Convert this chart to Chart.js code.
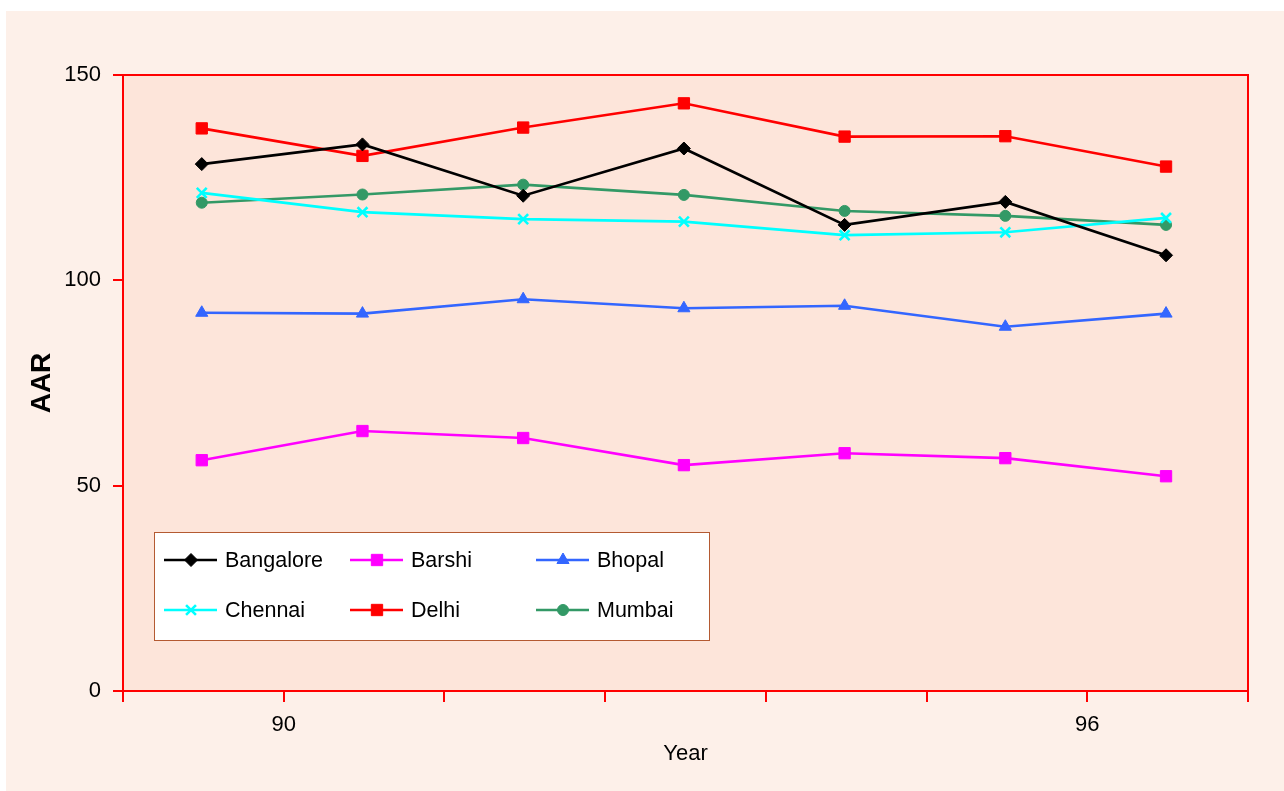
<!DOCTYPE html>
<html>
<head>
<meta charset="utf-8">
<script src="https://cdn.jsdelivr.net/npm/chart.js@4/dist/chart.umd.min.js"></script>
<style>
  html, body { margin: 0; padding: 0; background: #ffffff; }
  #paneel {
    position: absolute; left: 6px; top: 11px;
    width: 1278px; height: 780px;
    background: rgb(253, 240, 233);
  }
</style>
</head>
<body>
<div id="paneel"><canvas id="grafiek"></canvas></div>
<script>
// tick labels on the year axis (one per boundary)
const tickLabels = ['', '90', '', '', '', '', '96', ''];

// AAR per city, seven years
const seriesNames = ['Bangalore', 'Barshi', 'Bhopal', 'Chennai', 'Delhi', 'Mumbai'];
const bangalore = [128.3, 133.1, 120.6, 132.1, 113.5, 119.1, 106.1];
const barshi    = [56.2, 63.3, 61.6, 55.0, 57.9, 56.7, 52.3];
const bhopal    = [92.1, 91.9, 95.4, 93.2, 93.8, 88.7, 91.9];
const chennai   = [121.3, 116.6, 114.9, 114.3, 111.0, 111.7, 115.2];
const delhi     = [137.0, 130.3, 137.2, 143.1, 135.0, 135.1, 127.7];
const mumbai    = [118.9, 120.9, 123.3, 120.8, 116.9, 115.7, 113.5];

const FONT = "'Liberation Sans', Arial, Helvetica, sans-serif";
const ROOD = '#ff0000';

// punten staan (bijna) midden in elk jaarvak
function punten(waarden) {
  return waarden.map((v, i) => ({ x: i + 0.49, y: v }));
}

function lijn(naam, waarden, kleur, stijl, straal) {
  return {
    label: naam,
    data: punten(waarden),
    borderColor: kleur,
    backgroundColor: kleur,
    borderWidth: 2.6,
    pointStyle: stijl,
    pointRadius: straal,
    pointHoverRadius: straal,
    pointBorderWidth: stijl === 'crossRot' ? 2.6 : 1,
    pointBorderColor: kleur,
    pointBackgroundColor: kleur,
    tension: 0
  };
}

const datasets = [
  lijn(seriesNames[0], bangalore, '#000000', 'rectRot', 6.5),
  lijn(seriesNames[1], barshi, '#ff00ff', 'rect', 8),
  lijn(seriesNames[2], bhopal, '#3366ff', 'triangle', 7),
  lijn(seriesNames[3], chennai, '#00ffff', 'crossRot', 7),
  lijn(seriesNames[4], delhi, ROOD, 'rect', 8),
  lijn(seriesNames[5], mumbai, '#339966', 'circle', 5.5)
];

// achtergrond en rode rand van het plotvlak
const plotVlak = {
  id: 'plotVlak',
  beforeDraw(chart) {
    const { ctx, chartArea: a } = chart;
    ctx.save();
    ctx.fillStyle = 'rgb(253, 229, 218)';
    ctx.fillRect(a.left, a.top, a.right - a.left, a.bottom - a.top);
    ctx.restore();
  },
  afterDatasetsDraw(chart) {
    const { ctx, chartArea: a } = chart;
    ctx.save();
    ctx.strokeStyle = ROOD;
    ctx.lineWidth = 2;
    ctx.strokeRect(a.left, a.top, a.right - a.left, a.bottom - a.top);
    ctx.restore();
  }
};

// eigen legenda in een kader binnen het plotvlak (3 kolommen, 2 rijen)
const legendaKader = {
  id: 'legendaKader',
  afterDraw(chart) {
    const { ctx, chartArea: a } = chart;
    const bx = a.left + 31, by = a.top + 457, bw = 555, bh = 108;
    ctx.save();
    ctx.fillStyle = '#ffffff';
    ctx.fillRect(bx, by, bw, bh);
    ctx.strokeStyle = 'rgb(180, 90, 50)';
    ctx.lineWidth = 1;
    ctx.strokeRect(bx + 0.5, by + 0.5, bw, bh);
    ctx.font = '21.5px ' + FONT;
    ctx.textBaseline = 'middle';
    ctx.textAlign = 'left';
    chart.data.datasets.forEach((ds, i) => {
      const kol = i % 3, rij = Math.floor(i / 3);
      const x0 = bx + 10 + kol * 186;
      const y0 = by + 28 + rij * 50;
      ctx.strokeStyle = ds.borderColor;
      ctx.lineWidth = 2.6;
      ctx.beginPath();
      ctx.moveTo(x0, y0);
      ctx.lineTo(x0 + 53, y0);
      ctx.stroke();
      ctx.fillStyle = ds.pointBackgroundColor;
      ctx.lineWidth = ds.pointBorderWidth;
      Chart.helpers.drawPoint(ctx, {
        pointStyle: ds.pointStyle,
        radius: ds.pointRadius,
        rotation: 0,
        borderWidth: ds.pointBorderWidth
      }, x0 + 27, y0);
      ctx.fillStyle = '#000000';
      ctx.fillText(ds.label, x0 + 61, y0 + 1);
    });
    ctx.restore();
  }
};

new Chart(document.getElementById('grafiek'), {
  type: 'line',
  data: { datasets: datasets },
  plugins: [plotVlak, legendaKader],
  options: {
    responsive: true,
    maintainAspectRatio: false,
    animation: false,
    layout: { padding: { left: 0, top: 64, right: 36, bottom: 0 } },
    plugins: {
      legend: { display: false },
      tooltip: { enabled: false }
    },
    scales: {
      x: {
        type: 'linear',
        min: 0,
        max: 7,
        afterFit: (s) => { s.height = 100; },
        afterBuildTicks: (s) => {
          s.ticks = tickLabels.map((t, i) => ({ value: i }));
        },
        ticks: {
          autoSkip: false,
          maxRotation: 0,
          padding: 10,
          color: '#000000',
          font: { family: FONT, size: 22 },
          callback: (v, i) => tickLabels[i]
        },
        grid: {
          drawOnChartArea: false,
          drawTicks: true,
          tickLength: 11,
          color: ROOD,
          lineWidth: 2
        },
        border: { color: ROOD, width: 2 },
        title: {
          display: true,
          text: 'Year',
          color: '#000000',
          font: { family: FONT, size: 22 },
          padding: { top: 0, bottom: 24 }
        }
      },
      y: {
        min: 0,
        max: 150,
        afterFit: (s) => { s.width = 117; },
        ticks: {
          stepSize: 50,
          padding: 12,
          color: '#000000',
          font: { family: FONT, size: 22 }
        },
        grid: {
          drawOnChartArea: false,
          drawTicks: true,
          tickLength: 10,
          color: ROOD,
          lineWidth: 2
        },
        border: { color: ROOD, width: 2 },
        title: {
          display: true,
          text: 'AAR',
          color: '#000000',
          font: { family: FONT, size: 28, weight: 'bold' },
          padding: { top: 19, bottom: 0 }
        }
      }
    }
  }
});
</script>
</body>
</html>
